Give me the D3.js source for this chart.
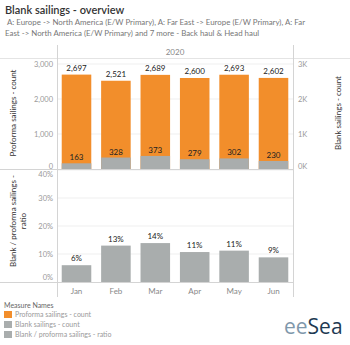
<!DOCTYPE html>
<html>
<head>
<meta charset="utf-8">
<script src="https://cdn.jsdelivr.net/npm/d3@7"></script>
<style>
  body { margin: 0; background: #fff; }
  text { font-family: Lato, "Open Sans", sans-serif; }
</style>
</head>
<body>
<svg id="canvas" width="350" height="345"></svg>
<script>
let months = ['Jan', 'Feb', 'Mar', 'Apr', 'May', 'Jun']
let proforma = [2697, 2521, 2689, 2600, 2693, 2602]
let blank = [163, 328, 373, 279, 302, 230]
let ratio = [0.06, 0.13, 0.139, 0.107, 0.112, 0.088]

let countTicks = [0, 1000, 2000, 3000]
let ratioTicks = [0, 0.1, 0.2, 0.3, 0.4]

let legendItems = [
    { name: 'Proforma sailings - count', color: '#f28e2b' },
    { name: 'Blank sailings - count', color: '#a9adad' },
    { name: 'Blank / proforma sailings - ratio', color: '#a9adad' }
]

let orange = '#f28e2b'
let grey = '#a9adad'

let canvas = d3.select('#canvas')

let x = d3.scaleBand()
    .domain(months)
    .range([57, 293])
    .paddingInner(0.25)
    .paddingOuter(0.12)

let yCount = d3.scaleLinear().domain([0, 3171]).range([169, 58])
let yRatio = d3.scaleLinear().domain([0, 0.4]).range([282, 170])

// title + filter description
canvas.append('text')
    .attr('x', 5).attr('y', 14)
    .attr('font-size', 11).attr('font-weight', 600)
    .attr('fill', '#333')
    .text('Blank sailings - overview')

let subtitle = [
    'A: Europe -> North America (E/W Primary), A: Far East -> Europe (E/W Primary), A: Far',
    'East -> North America (E/W Primary) and 7 more - Back haul & Head haul'
]
canvas.selectAll('.subtitle')
    .data(subtitle)
    .enter()
    .append('text')
    .attr('class', 'subtitle')
    .attr('x', (d, i) => i == 0 ? 7 : 5)
    .attr('y', (d, i) => 25 + i * 11)
    .attr('font-size', 7.9)
    .attr('fill', '#777')
    .text((d) => d)

// gridlines
canvas.selectAll('.grid-count')
    .data(countTicks.slice(1))
    .enter()
    .append('line')
    .attr('x1', 57).attr('x2', 293)
    .attr('y1', (d) => yCount(d)).attr('y2', (d) => yCount(d))
    .attr('stroke', '#efefef')

canvas.selectAll('.grid-ratio')
    .data(ratioTicks.slice(1))
    .enter()
    .append('line')
    .attr('x1', 57).attr('x2', 293)
    .attr('y1', (d) => yRatio(d)).attr('y2', (d) => yRatio(d))
    .attr('stroke', '#efefef')

// frame lines
let frame = canvas.append('g').attr('stroke', '#d4d4d4').attr('fill', 'none')
frame.append('line').attr('x1', 0).attr('x2', 350).attr('y1', 58.5).attr('y2', 58.5).attr('stroke', '#e4e4e4')
frame.append('line').attr('x1', 0).attr('x2', 293).attr('y1', 169.5).attr('y2', 169.5)
frame.append('line').attr('x1', 0).attr('x2', 293).attr('y1', 282.5).attr('y2', 282.5)
frame.append('line').attr('x1', 57.5).attr('x2', 57.5).attr('y1', 45).attr('y2', 297)
frame.append('line').attr('x1', 293.5).attr('x2', 293.5).attr('y1', 45).attr('y2', 297)

canvas.append('text')
    .attr('x', 175).attr('y', 55)
    .attr('text-anchor', 'middle')
    .attr('font-size', 8).attr('fill', '#888')
    .text('2020')

// upper pane: proforma and blank counts
canvas.selectAll('.bar-proforma')
    .data(proforma)
    .enter()
    .append('rect')
    .attr('x', (d, i) => x(months[i]))
    .attr('width', x.bandwidth())
    .attr('y', (d) => yCount(d))
    .attr('height', (d) => yCount(0) - yCount(d))
    .attr('fill', orange)

canvas.selectAll('.bar-blank')
    .data(blank)
    .enter()
    .append('rect')
    .attr('x', (d, i) => x(months[i]))
    .attr('width', x.bandwidth())
    .attr('y', (d) => yCount(d))
    .attr('height', (d) => yCount(0) - yCount(d))
    .attr('fill', grey)

let fmt = d3.format(',')

canvas.selectAll('.label-proforma')
    .data(proforma)
    .enter()
    .append('text')
    .attr('x', (d, i) => x(months[i]) + x.bandwidth() / 2)
    .attr('y', (d) => yCount(d) - 4)
    .attr('text-anchor', 'middle')
    .attr('font-size', 8).attr('fill', '#222')
    .text((d) => fmt(d))

canvas.selectAll('.label-blank')
    .data(blank)
    .enter()
    .append('text')
    .attr('x', (d, i) => x(months[i]) + x.bandwidth() / 2)
    .attr('y', (d) => yCount(d) - 3)
    .attr('text-anchor', 'middle')
    .attr('font-size', 8).attr('fill', '#222')
    .text((d) => fmt(d))

// lower pane: ratio
canvas.selectAll('.bar-ratio')
    .data(ratio)
    .enter()
    .append('rect')
    .attr('x', (d, i) => x(months[i]))
    .attr('width', x.bandwidth())
    .attr('y', (d) => yRatio(d))
    .attr('height', (d) => yRatio(0) - yRatio(d))
    .attr('fill', grey)

canvas.selectAll('.label-ratio')
    .data(ratio)
    .enter()
    .append('text')
    .attr('x', (d, i) => x(months[i]) + x.bandwidth() / 2)
    .attr('y', (d) => yRatio(d) - 4)
    .attr('text-anchor', 'middle')
    .attr('font-size', 8).attr('fill', '#222')
    .text((d) => d3.format('.0%')(d))

// axes
let axisText = (sel) => {
    sel.select('.domain').remove()
    sel.selectAll('.tick line').remove()
    sel.selectAll('.tick text')
        .attr('font-size', 7.5)
        .attr('fill', '#999')
        .style('font-family', 'Lato, sans-serif')
}

canvas.append('g')
    .attr('transform', 'translate(57,0)')
    .call(d3.axisLeft(yCount).tickValues(countTicks).tickFormat(fmt).tickSize(0).tickPadding(4))
    .call(axisText)
    .selectAll('.tick text')
    .attr('dy', (d) => d == 0 ? '-0.1em' : '0.32em')

canvas.append('g')
    .attr('transform', 'translate(293,0)')
    .call(d3.axisRight(yCount).tickValues(countTicks).tickFormat((d) => (d / 1000) + 'K').tickSize(0).tickPadding(5))
    .call(axisText)
    .selectAll('.tick text')
    .attr('dy', (d) => d == 0 ? '-0.1em' : '0.32em')

canvas.append('g')
    .attr('transform', 'translate(57,0)')
    .call(d3.axisLeft(yRatio).tickValues(ratioTicks).tickFormat(d3.format('.0%')).tickSize(0).tickPadding(4))
    .call(axisText)
    .selectAll('.tick text')
    .attr('dy', (d) => d == 0 ? '-0.3em' : (d == 0.4 ? '0.9em' : '0.32em'))

canvas.append('g')
    .attr('transform', 'translate(0,282)')
    .call(d3.axisBottom(x).tickSize(0).tickPadding(6))
    .call(axisText)
    .selectAll('.tick text')
    .attr('font-size', 8).attr('fill', '#888')

// axis titles
canvas.append('text')
    .attr('transform', 'translate(16,113) rotate(-90)')
    .attr('text-anchor', 'middle')
    .attr('font-size', 8).attr('fill', '#333')
    .text('Proforma sailings - count')

canvas.append('text')
    .attr('transform', 'translate(341,113) rotate(-90)')
    .attr('text-anchor', 'middle')
    .attr('font-size', 8).attr('fill', '#333')
    .text('Blank sailings - count')

let ratioTitle = ['Blank / proforma sailings -', 'ratio']
canvas.selectAll('.ratio-title')
    .data(ratioTitle)
    .enter()
    .append('text')
    .attr('transform', (d, i) => 'translate(' + (16 + i * 10) + ',221) rotate(-90)')
    .attr('text-anchor', 'middle')
    .attr('font-size', 8).attr('fill', '#333')
    .text((d) => d)

// legend
canvas.append('text')
    .attr('x', 4).attr('y', 308)
    .attr('font-size', 7).attr('fill', '#666')
    .text('Measure Names')

let legend = canvas.selectAll('.legend')
    .data(legendItems)
    .enter()
    .append('g')
    .attr('transform', (d, i) => 'translate(4,' + (311 + i * 10) + ')')

legend.append('rect')
    .attr('width', 8).attr('height', 7)
    .attr('fill', (d) => d.color)

legend.append('text')
    .attr('x', 11).attr('y', 6)
    .attr('font-size', 7).attr('fill', '#999')
    .text((d) => d.name)

// logo
let logo = canvas.append('text')
    .attr('x', 284).attr('y', 334)
    .attr('font-size', 21)
    .style('font-family', '"Open Sans", sans-serif')
logo.append('tspan').attr('fill', '#8098ab').text('ee')
logo.append('tspan').attr('fill', '#1e3a52').text('Sea')
</script>
</body>
</html>
